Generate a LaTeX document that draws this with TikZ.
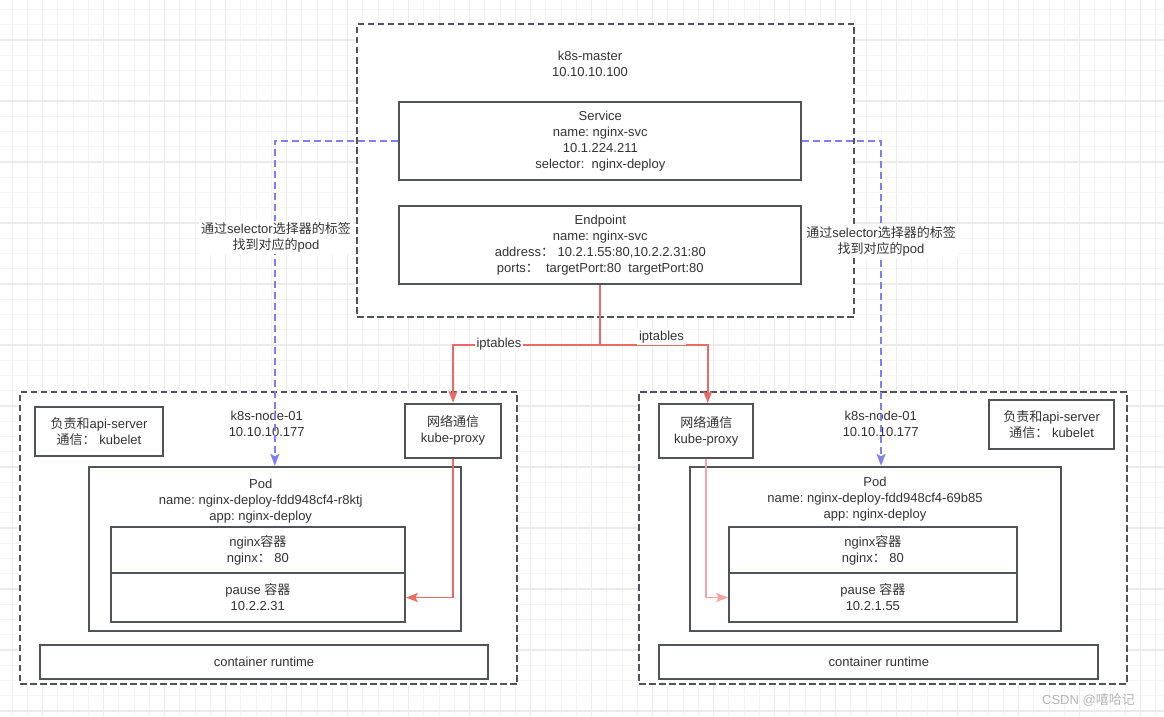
\documentclass[tikz,border=0pt]{standalone}
\usepackage{fontspec}
\setmainfont{Liberation Sans}
\newfontfamily\cjk{Noto Sans CJK SC}
\newcommand\zh[1]{{\cjk #1}}
\usetikzlibrary{arrows.meta,calc}
\definecolor{boxgray}{HTML}{505357}
\definecolor{txt}{HTML}{333333}
\definecolor{redc}{HTML}{EA6B66}
\definecolor{pinkc}{HTML}{F4A4A2}
\definecolor{bluec}{HTML}{7F7FF2}
\definecolor{gridminor}{HTML}{F4F4F4}
\definecolor{gridmajor}{HTML}{EBEBEB}
\definecolor{wm}{HTML}{B4B4B4}
\newcommand\fs{\fontsize{13}{16}\selectfont\frenchspacing}
\tikzset{
  box/.style={draw=boxgray, line width=1.8pt, fill=white, rectangle, inner sep=0pt, align=center, font=\fs, text=txt},
  dbox/.style={box, dash pattern=on 6.5pt off 3.5pt},
  txtnode/.style={align=center, font=\fs, text=txt, inner sep=1pt},
  lbl/.style={txtnode, fill=white, inner sep=2pt},
  redline/.style={draw=redc, line width=1.8pt, -{Stealth[length=12pt,width=9pt,inset=2.5pt]}},
  pinkline/.style={draw=pinkc, line width=1.8pt, -{Stealth[length=12pt,width=9pt,inset=2.5pt]}},
  blueline/.style={draw=bluec, line width=1.6pt, dash pattern=on 7pt off 4pt, -{Stealth[length=12pt,width=9pt,inset=2.5pt]}},
}
\begin{document}
\begin{tikzpicture}[x=1pt,y=-1pt]
\useasboundingbox (0,0) rectangle (1164,717);
\fill[white] (0,0) rectangle (1164,717);
% grid
\foreach \i in {-3,...,74} {\pgfmathsetmacro\gx{42.7+15.25*\i}
  \draw[gridminor, line width=1pt] (\gx,0) -- (\gx,717);}
\foreach \i in {-3,...,45} {\pgfmathsetmacro\gy{40+15.25*\i}
  \draw[gridminor, line width=1pt] (0,\gy) -- (1164,\gy);}
\foreach \i in {-1,...,18} {\pgfmathsetmacro\gx{42.7+61*\i}
  \draw[gridmajor, line width=1.2pt] (\gx,0) -- (\gx,717);}
\foreach \i in {-1,...,11} {\pgfmathsetmacro\gy{40+61*\i}
  \draw[gridmajor, line width=1.2pt] (0,\gy) -- (1164,\gy);}

% master
\node[dbox, minimum width=497pt, minimum height=293pt] (master) at (605.5,170.5) {};
\node[txtnode] (mastert) at (590,64) {k8s-master\\10.10.10.100};
\node[box, minimum width=402pt, minimum height=78.3pt] (svc) at (600.3,140.85)
  {Service\\name: nginx-svc\\10.1.224.211\\selector:\ \ nginx-deploy};
\node[box, minimum width=402pt, minimum height=78pt] (ep) at (600.3,244.7)
  {Endpoint\\name: nginx-svc\\address\zh{：}\ 10.2.1.55:80,10.2.2.31:80\\ports\zh{：}\ \ targetPort:80\ \ targetPort:80};

% left node
\node[dbox, minimum width=497.3pt, minimum height=292.6pt] (nodeL) at (268.65,538) {};
\node[txtnode] (nodeLt) at (266.7,423.7) {k8s-node-01\\10.10.10.177};
\node[box, minimum width=128pt, minimum height=48.7pt] (kbL) at (99,431.35)
  {\zh{负责和}api-server\\\zh{通信：}\ kubelet};
\node[box, minimum width=96.6pt, minimum height=54pt] (kpL) at (453,430.7)
  {\zh{网络通信}\\kube-proxy};
\node[box, minimum width=372.3pt, minimum height=164.3pt] (podL) at (274.85,548.85) {};
\node[txtnode] (podLt) at (260.7,501.5) {Pod\\name: nginx-deploy-fdd948cf4-r8ktj\\app: nginx-deploy};
\node[box, minimum width=294.3pt, minimum height=46.3pt] (ngL) at (257.85,550.15)
  {nginx\zh{容器}\\nginx\zh{：}\ 80};
\node[box, minimum width=294.3pt, minimum height=48.4pt] (paL) at (257.85,597.5)
  {pause \zh{容器}\\10.2.2.31};
\node[box, minimum width=448pt, minimum height=34.3pt] (rtL) at (264,661.85) {container runtime};

% right node
\node[dbox, minimum width=487.4pt, minimum height=292.6pt] (nodeR) at (883,538) {};
\node[txtnode] (nodeRt) at (880.7,423.7) {k8s-node-01\\10.10.10.177};
\node[box, minimum width=94pt, minimum height=53.7pt] (kpR) at (706.3,430.85)
  {\zh{网络通信}\\kube-proxy};
\node[box, minimum width=125.3pt, minimum height=48.7pt] (kbR) at (1051.65,424.35)
  {\zh{负责和}api-server\\\zh{通信：}\ kubelet};
\node[box, minimum width=370.7pt, minimum height=164.3pt] (podR) at (875.65,548.85) {};
\node[txtnode] (podRt) at (875,499) {Pod\\name: nginx-deploy-fdd948cf4-69b85\\app: nginx-deploy};
\node[box, minimum width=287.7pt, minimum height=46.3pt] (ngR) at (872.85,550.15)
  {nginx\zh{容器}\\nginx\zh{：}\ 80};
\node[box, minimum width=287.7pt, minimum height=48.4pt] (paR) at (872.85,597.5)
  {pause \zh{容器}\\10.2.1.55};
\node[box, minimum width=439pt, minimum height=34.3pt] (rtR) at (878.8,661.85) {container runtime};

% connectors
\coordinate (j) at ($(ep.south)+(0,60.3)$);
\draw[redline] (ep.south) -- (j) -| (kpL.north);
\draw[redline] (j) -| ([xshift=1.4pt]kpR.north);
\draw[redline] (kpL.south) |- (paL.east);
\draw[pinkline] (kpR.south) |- (paR.west);
\draw[blueline] (svc.west) -| (podL.north);
\draw[blueline] (svc.east) -| ([xshift=5.4pt]podR.north);

% labels
\node[lbl] (ipL) at (499,344) {iptables};
\node[lbl] (ipR) at (661.5,337) {iptables};
\node[lbl] (selL) at (276,237.5) {\zh{通过}selector\zh{选择器的标签}\\\zh{找到对应的}pod};
\node[lbl] (selR) at (881,241) {\zh{通过}selector\zh{选择器的标签}\\\zh{找到对应的}pod};
\node[txtnode, text=wm] (wmk) at (1088.5,700) {CSDN @\zh{嘻哈记}};
\end{tikzpicture}
\end{document}
